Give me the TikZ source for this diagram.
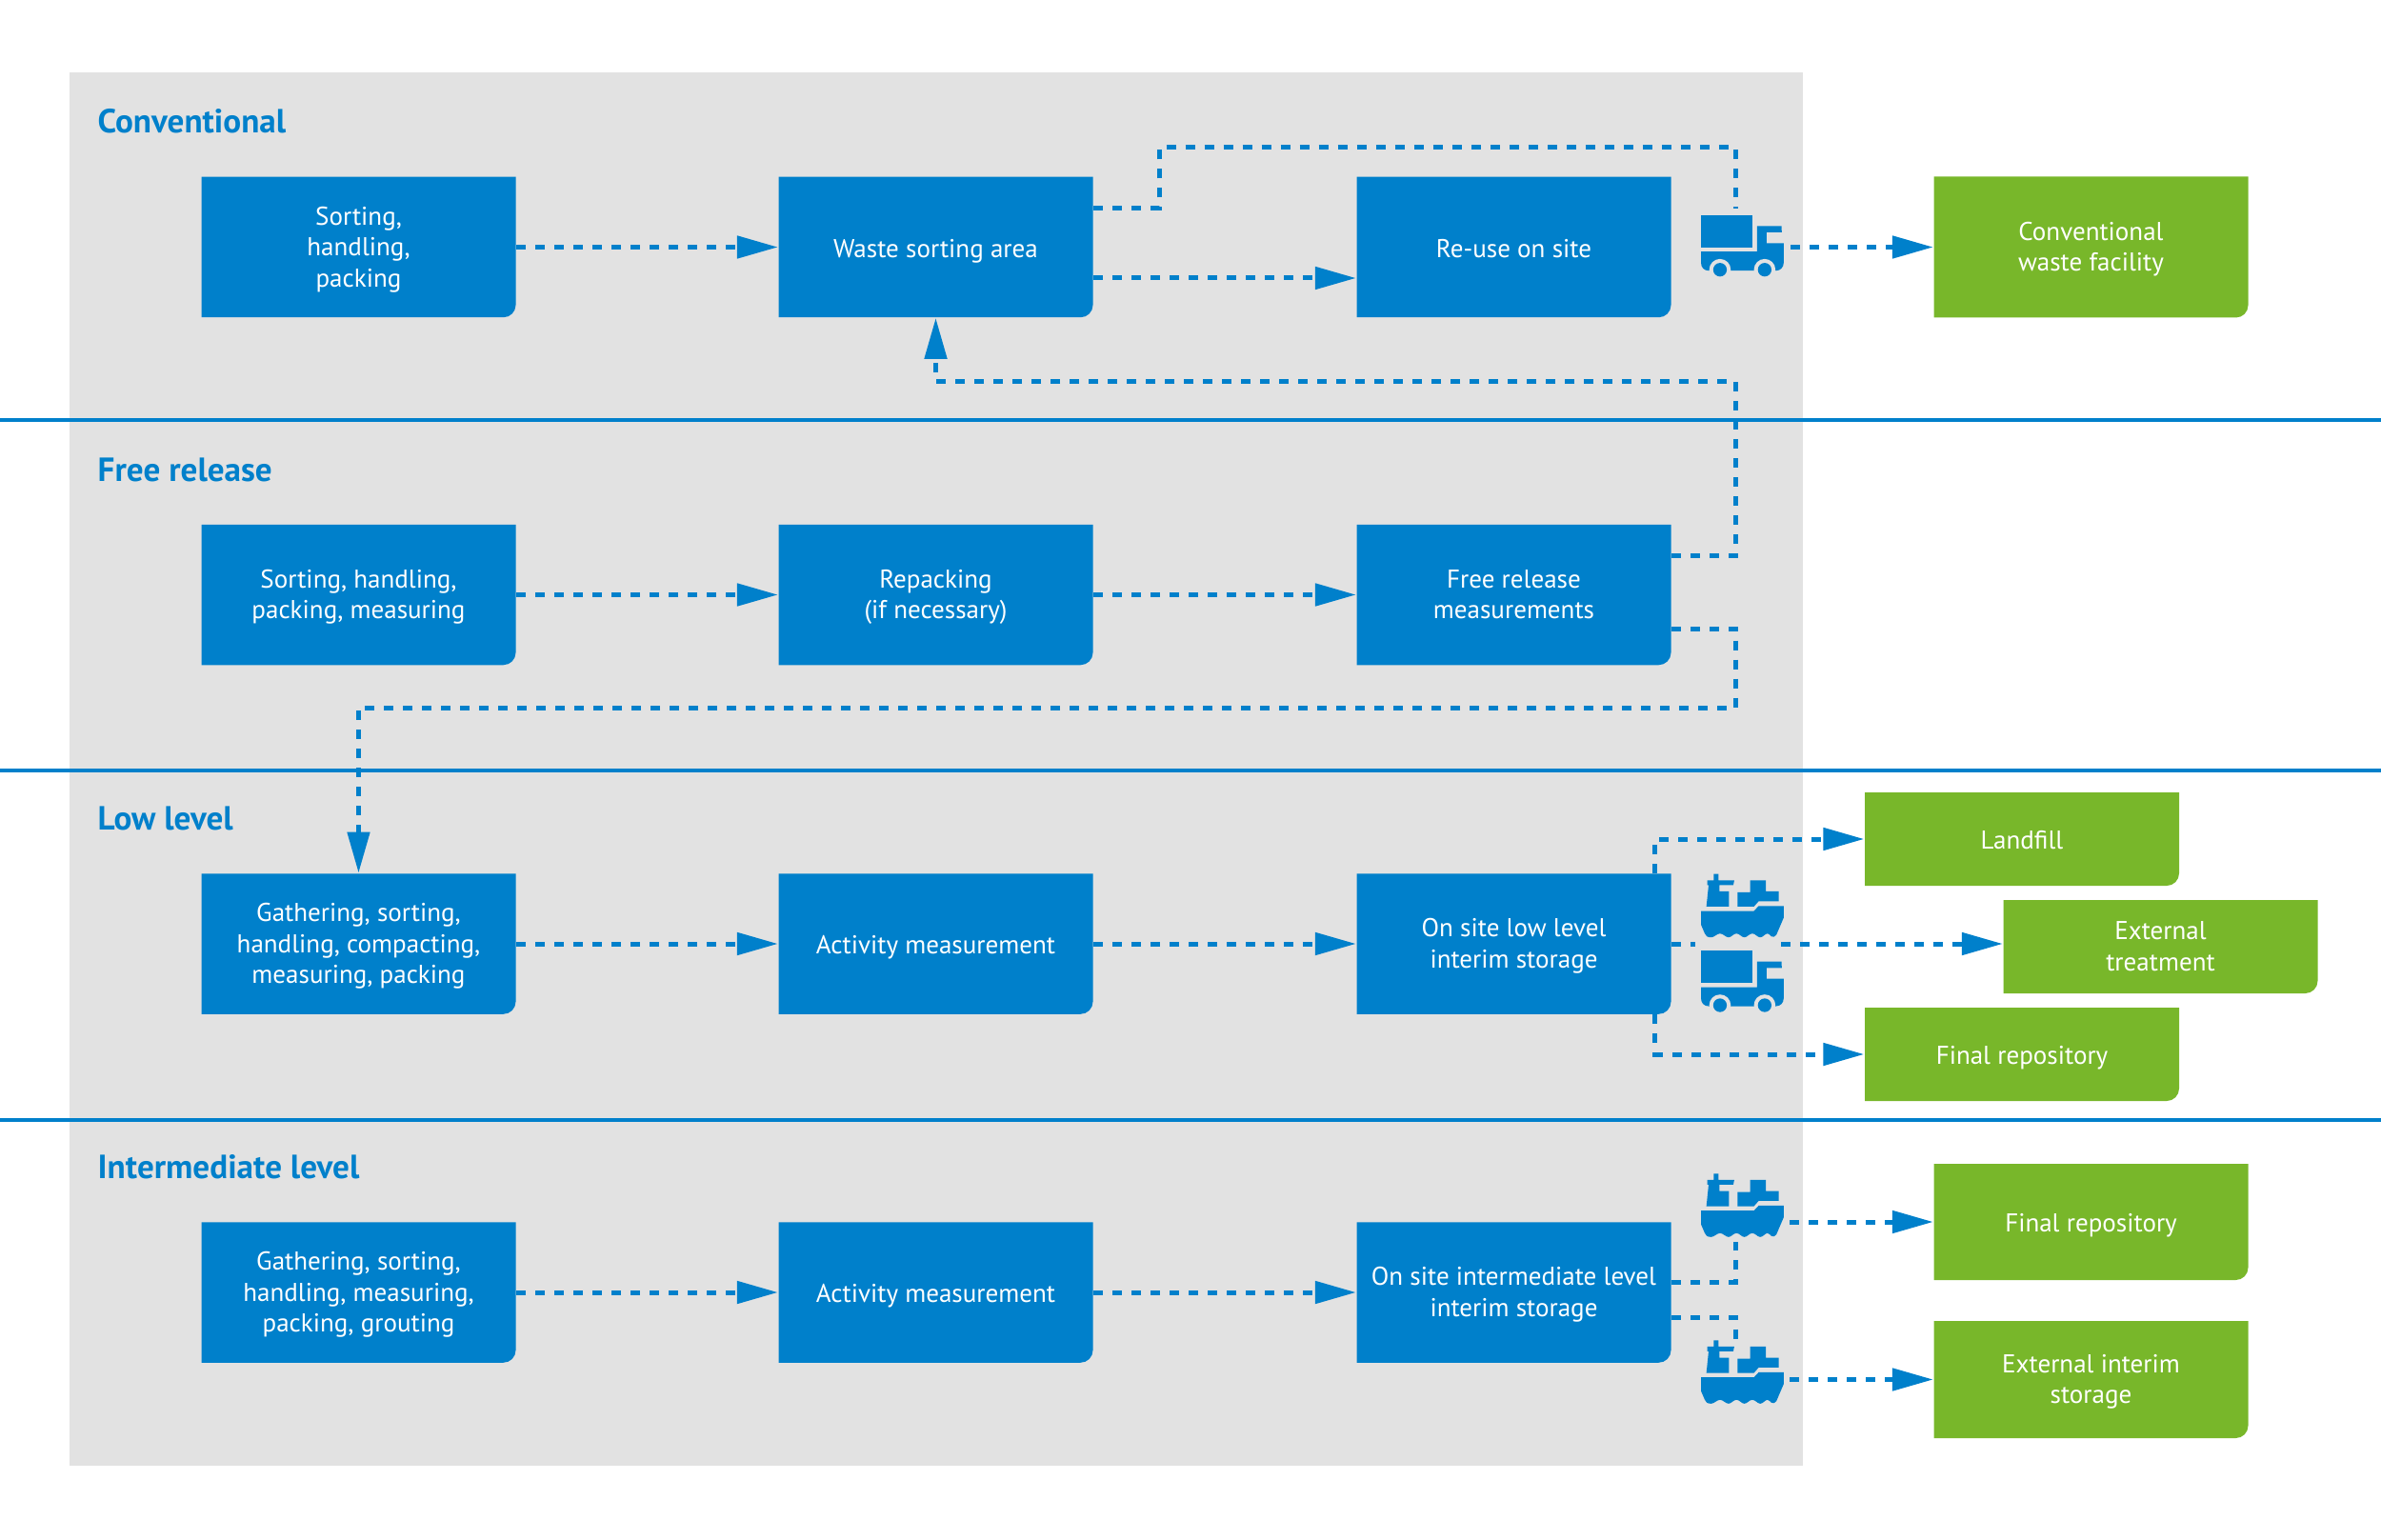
\documentclass[tikz,border=0pt]{standalone}
\usepackage{fontspec}
\setmainfont{PT Sans}
\usepackage{xcolor}
\usetikzlibrary{calc}
\usetikzlibrary{arrows.meta}
\definecolor{wasteblue}{HTML}{0080CB}
\definecolor{wastegreen}{HTML}{78B72A}
\definecolor{panelgrey}{HTML}{E2E2E2}
\tikzset{
    flow/.style={wasteblue, line width=.05cm, dash pattern=on .1cm off .1cm},
    flowtip/.style={flow, -{Triangle[length=.43cm,width=.23cm]}},
    boxtext/.style={text=white, align=center, inner sep=0pt, font=\fontsize{7.7}{9.25}\selectfont, execute at begin node=\strut, execute at end node=\strut},
    heading/.style={text=wasteblue, anchor=west, inner sep=0pt, font=\fontsize{10}{12}\selectfont\bfseries},
    truck/.pic={
        \begin{scope}[x=.003333cm,y=-.003333cm]
        \fill[wasteblue] (0,0) rectangle (162,102);
        \fill[wasteblue] (0,115) -- (177,115) -- (177,34) -- (254,34) -- (255,54) -- (207,54) -- (207,88) -- (261,88) -- (261,150) .. controls (261,165) and (250,175) .. (237,175) -- (24,175) .. controls (10,175) and (0,165) .. (0,150) -- cycle;
        \fill[panelgrey] (60,172) circle (34) (201,172) circle (34);
        \fill[wasteblue] (60,172) circle (21.5) (201,172) circle (21.5);
        \end{scope}
    },
    ship/.pic={
        \begin{scope}[x=.003333cm,y=-.003333cm]
        \fill[wasteblue] (40,0) -- (55,0) -- (55,20) -- (105,20) -- (102,35) -- (58,35) -- (58,55) -- (88,55) -- (88,103) -- (17,103) -- (24,35) -- (20,35) -- (20,20) -- (40,20) -- cycle;
        \fill[wasteblue] (115,58) -- (155,58) -- (155,20) -- (205,20) -- (205,55) -- (245,55) -- (245,86) -- (182,86) -- (167,103) -- (115,103) -- cycle;
        \fill[wasteblue] (0,117) -- (167,117) -- (182,101) -- (261,101) -- (261,138) -- (238,192) .. controls (235,199) and (226,200) .. (222,197) .. controls (218,193) and (214,188) .. (210,188) .. controls (202,188) and (196,200) .. (187,200) .. controls (178,200) and (172,188) .. (162,188) .. controls (152,188) and (146,200) .. (137,200) .. controls (128,200) and (122,188) .. (112,188) .. controls (102,188) and (96,200) .. (87,200) .. controls (78,200) and (70,188) .. (60,188) .. controls (50,188) and (42,200) .. (32,200) .. controls (20,200) and (15,196) .. (12,188) -- (0,160) -- cycle;
        \end{scope}
    }
}

\begin{document}
\begin{tikzpicture}[x=1cm,y=-1cm]
\useasboundingbox (0,0) rectangle (25,16.17);
\fill[panelgrey] (.73,.765) rectangle (18.93,15.39);
\foreach \y in {4.41,8.085,11.76}{
    \draw[wasteblue, line width=.04cm] (0,\y) -- (25,\y);
}
\foreach \y/\p/\labeltext in {1.275/headconv/{Conventional}, 4.935/headfree/{Free release}, 8.595/headlow/{Low level}, 12.255/headinter/{Intermediate level}}{
    \node[heading] (\p) at (1.02,\y) {\labeltext};
}
\foreach \x/\y/\p/\labeltext in {3.765/2.595/conva/{Sorting,\\handling,\\packing}, 9.825/2.595/convb/{Waste sorting area}, 15.895/2.595/convc/{Re-use on site}, 3.765/6.245/freea/{Sorting, handling,\\packing, measuring}, 9.825/6.245/freeb/{Repacking\\(if necessary)}, 15.895/6.245/freec/{Free release\\measurements}, 3.765/9.91/lowa/{Gathering, sorting,\\handling, compacting,\\measuring, packing}, 9.825/9.91/lowb/{Activity measurement}, 15.895/9.91/lowc/{On site low level\\interim storage}, 3.765/13.57/intera/{Gathering, sorting,\\handling, measuring,\\packing, grouting}, 9.825/13.57/interb/{Activity measurement}, 15.895/13.57/interc/{On site intermediate level\\interim storage}}{
    \fill[wasteblue] (\x-1.65,\y-.7375) -- (\x+1.65,\y-.7375) [rounded corners=.13cm] -- (\x+1.65,\y+.7375) [sharp corners] -- (\x-1.65,\y+.7375) -- cycle;
    \node[inner sep=0pt, minimum width=3.3cm, minimum height=1.475cm] (\p) at (\x,\y) {};
    \node[boxtext] (\p-text) at (\x,\y+.043) {\labeltext};
}
\foreach \x/\y/\h/\p/\labeltext in {21.955/2.595/1.48/convgreen/{Conventional\\waste facility}, 21.23/8.81/.98/landfill/{Landfill}, 22.685/9.94/.98/exttreat/{External\\treatment}, 21.23/11.07/.98/finallow/{Final repository}, 21.955/12.83/1.22/finalinter/{Final repository}, 21.955/14.485/1.23/extstore/{External interim\\storage}}{
    \fill[wastegreen] (\x-1.65,\y-.5*\h) -- (\x+1.65,\y-.5*\h) [rounded corners=.13cm] -- (\x+1.65,\y+.5*\h) [sharp corners] -- (\x-1.65,\y+.5*\h) -- cycle;
    \node[inner sep=0pt, minimum width=3.3cm, minimum height=\h cm] (\p) at (\x,\y) {};
    \node[boxtext] (\p-text) at (\x,\y+.043) {\labeltext};
}
\foreach \x/\y/\p in {18.225/2.19/truckup, 18.80/2.595/truckout, 17.80/9.91/lowgapa, 18.70/9.91/lowgapb, 18.225/13.04/shipdown, 18.225/14.07/shipup, 18.79/12.83/shipaout, 18.79/14.485/shipbout}{
    \coordinate (\p) at (\x,\y);
}
\pic at (17.86,2.26) {truck};
\pic at (17.86,9.177) {ship};
\pic at (17.86,9.983) {truck};
\pic at (17.86,12.323) {ship};
\pic at (17.86,14.073) {ship};
\draw[flowtip] (conva.east) -- (convb.west);
\draw[flowtip] (convb.east |- 0,2.92) -- (convc.west |- 0,2.92);
\draw[flow] ([yshift=.41cm]convb.east) -- ++(.69,0) -- ++(0,-.635) -| (truckup);
\draw[flowtip] (truckout) -- (convgreen.west);
\draw[flowtip] ([yshift=.41cm]freec.east) -- ++(.675,0) -- ++(0,-1.83) -| (convb.south);
\draw[flowtip] (freea.east) -- (freeb.west);
\draw[flowtip] (freeb.east) -- (freec.west);
\draw[flowtip] ([yshift=-.355cm]freec.east) -- ++(.675,0) -- ++(0,.83) -| (lowa.north);
\draw[flowtip] (lowa.east) -- (lowb.west);
\draw[flowtip] (lowb.east) -- (lowc.west);
\draw[flowtip] ([xshift=-.175cm]lowc.north east) |- (landfill.west);
\draw[flowtip] ([xshift=-.175cm]lowc.south east) |- (finallow.west);
\draw[flow] (lowc.east) -- (lowgapa);
\draw[flowtip] (lowgapb) -- (lowgapb -| exttreat.west);
\draw[flowtip] (intera.east) -- (interb.west);
\draw[flowtip] (interb.east) -- (interc.west);
\draw[flow] ([yshift=.11cm]interc.east) -| (shipdown);
\draw[flow] ([yshift=-.26cm]interc.east) -| (shipup);
\draw[flowtip] (shipaout) -- (finalinter.west);
\draw[flowtip] (shipbout) -- (extstore.west);
\end{tikzpicture}
\end{document}
